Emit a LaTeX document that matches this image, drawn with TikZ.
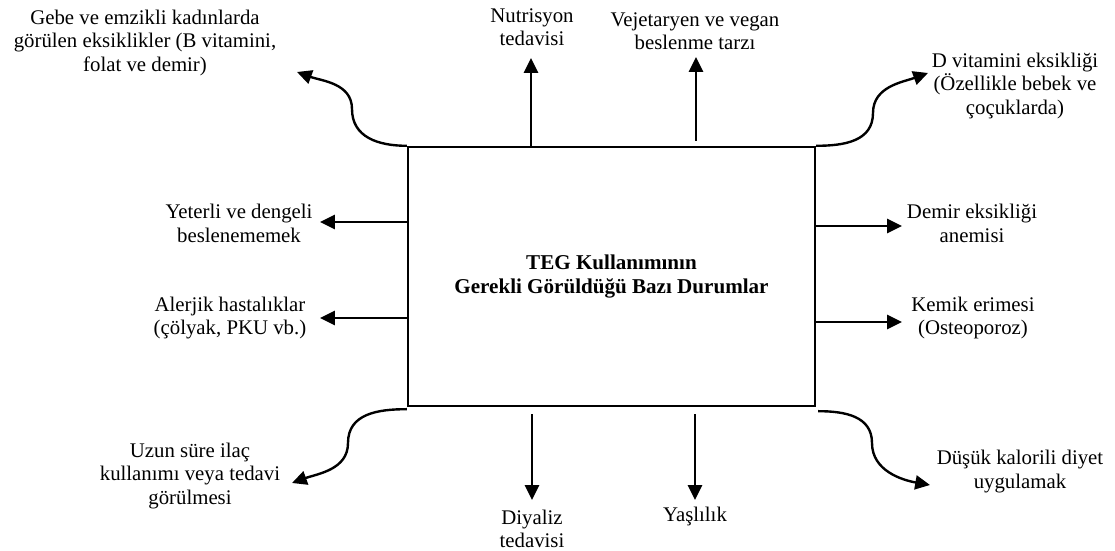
\documentclass[tikz,border=0pt]{standalone}
\usepackage{fontspec}
\setmainfont{Liberation Serif}
\usetikzlibrary{arrows.meta}

\begin{document}
\begin{tikzpicture}[
    arr/.style={line width=1.7pt, -{Triangle[length=0.37cm, width=0.35cm]}},
    lbl/.style={align=center, font=\fontsize{14.8}{16.7}\selectfont, inner sep=0pt}
  ]
  \useasboundingbox (0, 0) rectangle (27.875, 13.775);

  % the box in the middle
  \node[draw, line width=1.7pt, minimum width=10.175cm, minimum height=6.475cm,
        align=center, font=\fontsize{15}{17.5}\selectfont\bfseries] (box) at (15.2875, 6.8625)
        {TEG Kullanımının\\Gerekli Görüldüğü Bazı Durumlar};

  % labels
  \node[lbl] (gebe) at (3.625, 12.7) {Gebe ve emzikli kadınlarda\\görülen eksiklikler (B vitamini,\\folat ve demir)};
  \node[lbl] (nut) at (13.3, 13.1) {Nutrisyon\\tedavisi};
  \node[lbl] (vej) at (17.375, 12.99) {Vejetaryen ve vegan\\beslenme tarzı};
  \node[lbl] (dvit) at (25.375, 11.625) {D vitamini eksikliği\\(Özellikle bebek ve\\çoçuklarda)};
  \node[lbl] (yet) at (5.975, 8.19) {Yeterli ve dengeli\\beslenememek};
  \node[lbl] (alr) at (5.75, 5.825) {Alerjik hastalıklar\\(çölyak, PKU vb.)};
  \node[lbl] (dem) at (24.3, 8.19) {Demir eksikliği\\anemisi};
  \node[lbl] (kem) at (24.325, 5.825) {Kemik erimesi\\(Osteoporoz)};
  \node[lbl] (uzun) at (4.75, 1.875) {Uzun süre ilaç\\kullanımı veya tedavi\\görülmesi};
  \node[lbl] (diy) at (13.3, 0.55) {Diyaliz\\tedavisi};
  \node[lbl] (yas) at (17.375, 0.85) {Yaşlılık};
  \node[lbl] (dus) at (25.5, 1.99) {Düşük kalorili diyet\\uygulamak};

  % arrow ends
  \coordinate (t1) at (7.425, 11.975);
  \coordinate (m1) at (8.8, 11.05);
  \coordinate (t2) at (13.275, 12.325);
  \coordinate (t3) at (17.4, 12.35);
  \coordinate (t4) at (23.2, 11.95);
  \coordinate (m4) at (21.825, 10.95);
  \coordinate (t5) at (8.0, 8.225);
  \coordinate (t6) at (8.0, 5.825);
  \coordinate (t7) at (22.55, 8.125);
  \coordinate (t8) at (22.55, 5.725);
  \coordinate (t9) at (7.3, 1.7);
  \coordinate (m9) at (8.7, 2.7);
  \coordinate (t10) at (13.3, 1.275);
  \coordinate (t11) at (17.375, 1.275);
  \coordinate (t12) at (23.25, 1.65);
  \coordinate (m12) at (21.8, 2.7);

  \draw[arr] (box.north west) to[out=180, in=-90, looseness=1.1] (m1) to[out=90, in=-20] (t1);
  \draw[arr] (box.north -| t2) -- (t2);
  \draw[arr] ([yshift=0.125cm]box.north -| t3) -- (t3);
  \draw[arr] (box.north east) to[out=0, in=-90, looseness=1.1] (m4) to[out=90, in=200] (t4);
  \draw[arr] (box.west |- t5) -- (t5);
  \draw[arr] (box.west |- t6) -- (t6);
  \draw[arr] (box.east |- t7) -- (t7);
  \draw[arr] (box.east |- t8) -- (t8);
  \draw[arr] ([yshift=-0.05cm]box.south west) to[out=180, in=90, looseness=1.1] (m9) to[out=-90, in=20] (t9);
  \draw[arr] ([yshift=-0.175cm]box.south -| t10) -- (t10);
  \draw[arr] ([yshift=-0.175cm]box.south -| t11) -- (t11);
  \draw[arr] ([xshift=0.05cm, yshift=-0.1cm]box.south east) to[out=0, in=90, looseness=1.1] (m12) to[out=-90, in=170] (t12);
\end{tikzpicture}
\end{document}
